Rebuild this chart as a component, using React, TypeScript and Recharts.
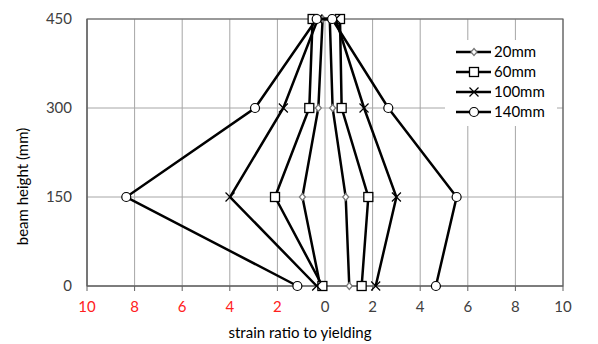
import React from 'react';
import { ScatterChart, Scatter, XAxis, YAxis, CartesianGrid, Legend, ReferenceArea } from 'recharts';

// beam heights (mm) where strain was measured
const heights = [0, 150, 300, 450];

// strain ratio to yielding, left (compression, negative) and right side for each spacing
const left20 = [-0.2, -0.95, -0.28, -0.1];
const right20 = [1.02, 0.87, 0.32, 0.2];
const left60 = [-0.11, -2.1, -0.66, -0.52];
const right60 = [1.54, 1.82, 0.7, 0.63];
const left100 = [-0.35, -3.99, -1.75, -0.3];
const right100 = [2.13, 3.0, 1.64, 0.45];
const left140 = [-1.16, -8.35, -2.94, -0.35];
const right140 = [4.66, 5.53, 2.66, 0.3];

const seriesNames = ['20mm', '60mm', '100mm', '140mm'];
const xTicks = [-10, -8, -6, -4, -2, 0, 2, 4, 6, 8, 10];
const yTicks = [0, 150, 300, 450];

const FONT = 'Lato, "Open Sans", sans-serif';
const FS = 15;

// walk up the left side then back down the right side
const buildPath = (left: number[], right: number[]) => {
  const up = heights.map((h, i) => ({ x: left[i], y: h }));
  const down = heights.map((h, i) => ({ x: right[i], y: h })).reverse();
  return [...up, ...down];
};

const data20 = buildPath(left20, right20);
const data60 = buildPath(left60, right60);
const data100 = buildPath(left100, right100);
const data140 = buildPath(left140, right140);

const Marker = ({ kind, cx, cy }: { kind: string; cx: number; cy: number }) => {
  if (kind === 'diamond') {
    return (
      <path
        d={`M${cx},${cy - 3.5}L${cx + 3},${cy}L${cx},${cy + 3.5}L${cx - 3},${cy}Z`}
        fill="#fff"
        stroke="#777"
        strokeWidth={1.2}
      />
    );
  }
  if (kind === 'square') {
    return <rect x={cx - 4.5} y={cy - 4.5} width={9} height={9} fill="#fff" stroke="#000" strokeWidth={1.3} />;
  }
  if (kind === 'cross') {
    return (
      <path
        d={`M${cx - 4.5},${cy - 4.5}L${cx + 4.5},${cy + 4.5}M${cx - 4.5},${cy + 4.5}L${cx + 4.5},${cy - 4.5}`}
        stroke="#000"
        strokeWidth={1.2}
      />
    );
  }
  return <circle cx={cx} cy={cy} r={4.5} fill="#fff" stroke="#000" strokeWidth={1.2} />;
};

const markerFor: Record<string, string> = {
  '20mm': 'diamond',
  '60mm': 'square',
  '100mm': 'cross',
  '140mm': 'circle',
};

const XTick = (props: any) => {
  const { x, y, payload } = props;
  const v = payload.value as number;
  return (
    <text x={x} y={y} dy="0.71em" textAnchor="middle" fontSize={FS} fontFamily={FONT} fill={v < 0 ? '#ff2020' : '#404040'}>
      {Math.abs(v)}
    </text>
  );
};

const YTitle = (props: any) => {
  const vb = props.viewBox;
  const cy = vb.y + vb.height / 2 + 34;
  return (
    <text x={22} y={cy} transform={`rotate(-90, 22, ${cy})`} textAnchor="middle" dominantBaseline="central" fontSize={FS} fontFamily={FONT} fill="#000">
      beam height (mm)
    </text>
  );
};

const XTitle = (props: any) => {
  const vb = props.viewBox;
  return (
    <text x={vb.x + vb.width / 2 - 25} y={332} textAnchor="middle" dominantBaseline="central" fontSize={FS} fontFamily={FONT} fill="#000">
      strain ratio to yielding
    </text>
  );
};

const LegendContent = (props: any) => {
  const items = [...((props.payload || []) as any[])].sort(
    (a, b) => seriesNames.indexOf(a.value) - seriesNames.indexOf(b.value),
  );
  return (
    <svg width={112} height={86} style={{ display: 'block', background: '#fff' }}>
      {items.map((it, i) => {
        const y = 12 + i * 20;
        return (
          <g key={it.value}>
            <line x1={11} x2={46} y1={y} y2={y} stroke="#000" strokeWidth={2.5} />
            <Marker kind={markerFor[it.value]} cx={29} cy={y} />
            <text x={49} y={y} dy="0.35em" fontSize={FS} fontFamily={FONT} fill="#000">
              {it.value}
            </text>
          </g>
        );
      })}
    </svg>
  );
};

const lineStyle = { stroke: '#000', strokeWidth: 2.5 };

export default function App() {
  return (
    <div style={{ position: 'absolute', left: 0, top: 0, background: '#fff' }}>
      <ScatterChart width={598} height={344} margin={{ top: 19, right: 35, left: 0, bottom: 0 }}>
        <CartesianGrid stroke="#a6a6a6" strokeWidth={1} />
        <ReferenceArea x1={-10} x2={10} y1={0} y2={450} fill="none" stroke="#606060" strokeWidth={1.2} />
        <XAxis
          type="number"
          dataKey="x"
          domain={[-10, 10]}
          ticks={xTicks}
          allowDataOverflow
          height={58}
          tick={<XTick />}
          tickSize={5}
          tickMargin={10}
          axisLine={{ stroke: '#606060' }}
          tickLine={{ stroke: '#606060' }}
          label={<XTitle />}
        />
        <YAxis
          type="number"
          dataKey="y"
          domain={[0, 450]}
          ticks={yTicks}
          width={87}
          tickLine={false}
          tickSize={0}
          tickMargin={15}
          axisLine={{ stroke: '#606060' }}
          tick={{ fontSize: FS, fontFamily: FONT, fill: '#404040' }}
          label={<YTitle />}
        />
        <Legend
          layout="vertical"
          align="center"
          verticalAlign="middle"
          content={<LegendContent />}
          wrapperStyle={{ position: 'absolute', left: 445, top: 40, width: 112, height: 86 }}
        />
        <Scatter name="20mm" data={data20} line={lineStyle} isAnimationActive={false} shape={(p: any) => <Marker kind="diamond" cx={p.cx} cy={p.cy} />} />
        <Scatter name="60mm" data={data60} line={lineStyle} isAnimationActive={false} shape={(p: any) => <Marker kind="square" cx={p.cx} cy={p.cy} />} />
        <Scatter name="100mm" data={data100} line={lineStyle} isAnimationActive={false} shape={(p: any) => <Marker kind="cross" cx={p.cx} cy={p.cy} />} />
        <Scatter name="140mm" data={data140} line={lineStyle} isAnimationActive={false} shape={(p: any) => <Marker kind="circle" cx={p.cx} cy={p.cy} />} />
      </ScatterChart>
    </div>
  );
}
